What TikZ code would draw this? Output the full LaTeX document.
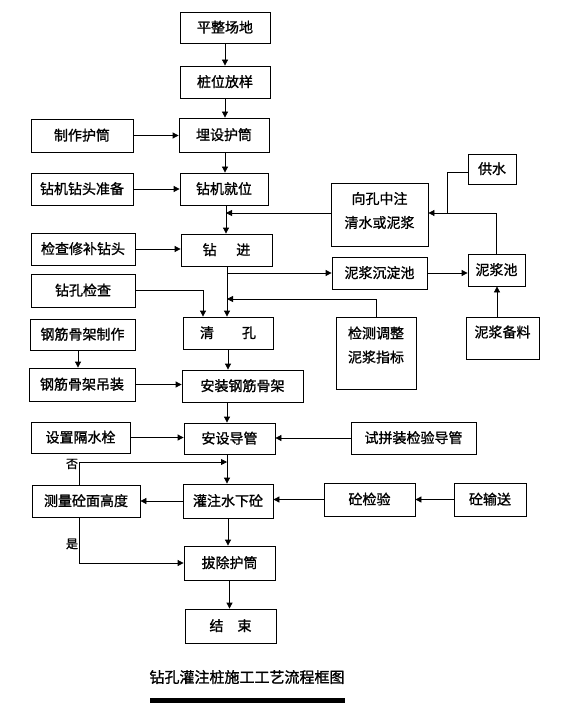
\documentclass[tikz,border=0pt]{standalone}
\usepackage{fontspec}
\newfontfamily\cjk{Noto Sans CJK SC}[FakeBold=1.2]
\usetikzlibrary{arrows.meta,calc}
\begin{document}
\begin{tikzpicture}[x=1pt,y=-1pt,
  frame/.style={draw, line width=0.8pt, inner sep=0pt},
  txt/.style={font=\cjk\fontsize{14}{24}\selectfont, align=center},
  box/.style={frame, txt, text height=12pt, text depth=2pt},
  arr/.style={-{Triangle[length=6pt,width=6pt]}, line width=0.8pt},
  ln/.style={line width=0.8pt},
  lab/.style={inner sep=0pt, font=\cjk\fontsize{12}{12}\selectfont}]
\useasboundingbox (0,0) rectangle (560,719);
\fill[white] (0,0) rectangle (560,719);
% main column
\node[box, minimum width=90pt, minimum height=31pt] (ping) at (225,27.5) {平整场地};
\node[box, minimum width=90pt, minimum height=32pt] (zhuang) at (225,82) {桩位放样};
\node[box, minimum width=90pt, minimum height=34pt] (mai) at (224,135) {埋设护筒};
\node[box, minimum width=88pt, minimum height=32pt] (jiuwei) at (224,189) {钻机就位};
\node[box, minimum width=91pt, minimum height=32pt] (zuanjin) at (226.5,250) {钻\hspace{1.4em}进};
\node[box, minimum width=90pt, minimum height=32pt] (qingkong) at (228,333) {清\hspace{2em}孔};
\node[box, minimum width=121pt, minimum height=32pt] (azgj) at (242.5,386) {安装钢筋骨架};
\node[box, minimum width=91pt, minimum height=31pt] (asdg) at (229.5,438.5) {安设导管};
\node[box, minimum width=90pt, minimum height=34pt] (gzsx) at (228,501) {灌注水下砼};
\node[box, minimum width=91pt, minimum height=34pt] (bchc) at (229.5,563) {拔除护筒};
\node[box, minimum width=91pt, minimum height=34pt] (js) at (230.5,626) {结\hspace{1em}束};
% left column
\node[box, minimum width=102pt, minimum height=33pt] (zhizuo) at (82,135.5) {制作护筒};
\node[box, minimum width=102pt, minimum height=32pt] (zhunbei) at (82,189) {钻机钻头准备};
\node[box, minimum width=104pt, minimum height=32pt] (jiancha) at (83,249) {检查修补钻头};
\node[box, minimum width=104pt, minimum height=33pt] (zkjc) at (83,290.5) {钻孔检查};
\node[box, minimum width=105pt, minimum height=31pt] (gjzz) at (82.5,334.5) {钢筋骨架制作};
\node[box, minimum width=106pt, minimum height=33pt] (gjdz) at (82,384.5) {钢筋骨架吊装};
\node[box, minimum width=99pt, minimum height=31pt] (sldg) at (80.5,437.5) {设置隔水栓};
\node[box, minimum width=108pt, minimum height=32pt] (clmg) at (86,501) {测量砼面高度};
% right side
\node[box, minimum width=48pt, minimum height=30pt] (gs) at (492,169) {供水};
\node[frame, minimum width=97pt, minimum height=63pt,
      label={[txt, inner sep=0pt, yshift=4pt]center:向孔中注\\清水或泥浆}] (xkzz) at (379.5,214.5) {};
\node[box, minimum width=95pt, minimum height=32pt] (njcd) at (379.5,273) {泥浆沉淀池};
\node[box, minimum width=57pt, minimum height=32pt] (njc) at (496.5,270) {泥浆池};
\node[frame, minimum width=73pt, minimum height=42pt,
      label={[txt, inner sep=0pt, yshift=6pt]center:泥浆备料}] (njbl) at (502.5,338) {};
\node[frame, minimum width=80pt, minimum height=72pt,
      label={[txt, inner sep=0pt, yshift=8pt]center:检测调整\\泥浆指标}] (jctz) at (376,353) {};
\node[box, minimum width=125pt, minimum height=32pt] (spz) at (413.5,438) {试拼装检验导管};
\node[box, minimum width=91pt, minimum height=33pt] (tjy) at (369.5,499.5) {砼检验};
\node[box, minimum width=72pt, minimum height=33pt] (tss) at (490,499.5) {砼输送};
% labels
\node[lab] (fou) at (72,464) {否};
\node[lab] (shi) at (72,544) {是};
\node[inner sep=0pt, font=\cjk\fontsize{15}{15}\selectfont] (title) at (247,677) {钻孔灌注桩施工工艺流程框图};
\fill (150,698) rectangle (345,703);
% helper coordinates
\coordinate (tr) at (227,0);
\coordinate (gj) at (447,0);
% main trunk
\draw[arr] (ping.south) -- (ping.south |- zhuang.north);
\draw[arr] (zhuang.south) -- (zhuang.south |- mai.north);
\draw[arr] ([xshift=1pt]mai.south) -- ([xshift=1pt]mai.south |- jiuwei.north);
\draw[arr] ([xshift=2pt]jiuwei.south) -- ([xshift=2pt]jiuwei.south |- zuanjin.north);
\draw[arr] (tr |- zuanjin.south) -- (tr |- qingkong.north);
\draw[arr] (qingkong.south) -- (qingkong.south |- azgj.north);
\draw[arr] (tr |- azgj.south) -- (tr |- asdg.north);
\draw[arr] (tr |- asdg.south) -- (tr |- gzsx.north);
\draw[arr] (gzsx.south) -- (gzsx.south |- bchc.north);
\draw[arr] (bchc.south) -- (bchc.south |- js.north);
% left inputs
\draw[arr] (zhizuo.east) -- (zhizuo.east -| mai.west);
\draw[arr] (zhunbei.east) -- (zhunbei.east -| jiuwei.west);
\draw[arr] (jiancha.east) -- (jiancha.east -| zuanjin.west);
\draw[arr] (zkjc.east) -| ([xshift=-25pt]qingkong.north);
\draw[arr] ([xshift=-4.5pt]gjzz.south) -- ([xshift=-4.5pt]gjzz.south |- gjdz.north);
\draw[arr] (gjdz.east) -- (gjdz.east -| azgj.west);
\draw[arr] (sldg.east) -- (sldg.east -| asdg.west);
% right inputs
\draw[arr] ([yshift=1.5pt]xkzz.west) -- ([xshift=2pt,yshift=1.5pt]jiuwei.south |- xkzz.west);
\draw[arr] (tr |- njcd.west) -- (njcd.west);
\draw[arr] (jctz.north) |- (tr |- 0,299);
\draw[arr] (njcd.east) -- (njcd.east -| njc.west);
\draw[arr] (njc.north) |- ([yshift=1.5pt]xkzz.east);
\draw[ln] ([yshift=-3pt]gs.west) -| ([yshift=1.5pt]gj |- xkzz.east);
\draw[arr] ([xshift=-5.5pt]njbl.north) -- ([xshift=-5.5pt]njbl.north |- njc.south);
\draw[arr] (spz.west) -- (spz.west -| asdg.east);
\draw[arr] (tjy.west) -- (tjy.west -| gzsx.east);
\draw[arr] (tss.west) -- (tss.west -| tjy.east);
% measurement loop
\draw[arr] (gzsx.west) -- (clmg.east);
\draw[arr] ([xshift=-7pt]clmg.north) |- (tr |- 0,462);
\draw[arr] ([xshift=-7pt]clmg.south) |- (bchc.west);
\end{tikzpicture}
\end{document}
